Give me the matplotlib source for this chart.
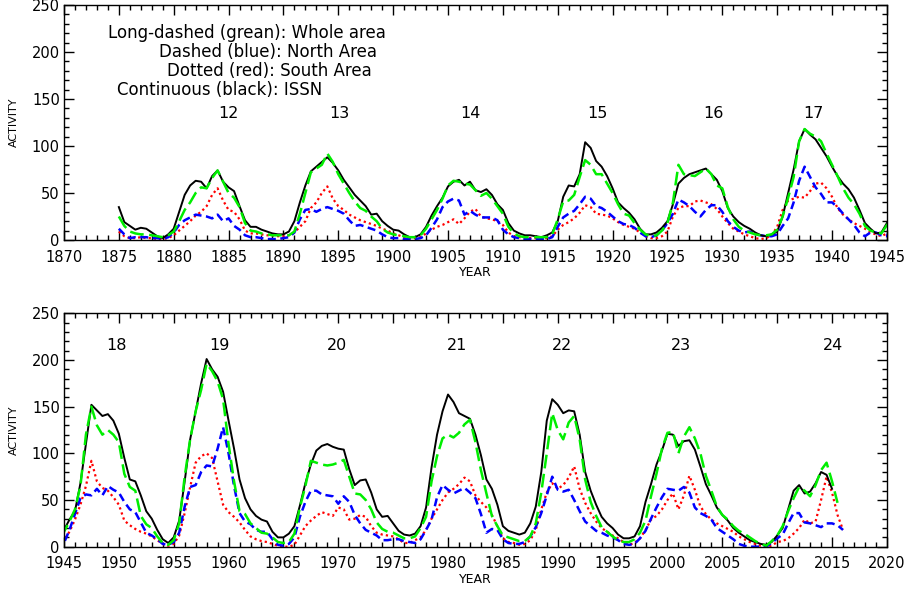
import numpy as np
import matplotlib
matplotlib.use("Agg")
import matplotlib.pyplot as plt
from matplotlib.ticker import MultipleLocator

# half-year grid, 1875.0 .. 2016.0
years = np.arange(1875.0, 2016.01, 0.5)

# Continuous (black): ISSN
issn = [
    35, 19, 15, 11, 13, 12, 8, 4, 2, 6,
    12, 30, 48, 58, 63, 62, 55, 68, 74, 62,
    56, 52, 36, 21, 14, 14, 11, 9, 7, 6,
    6, 9, 20, 40, 58, 73, 78, 83, 88, 82,
    74, 64, 56, 48, 42, 36, 27, 28, 20, 15,
    11, 10, 6, 3, 3, 6, 14, 26, 36, 45,
    57, 62, 64, 58, 62, 53, 51, 54, 48, 38,
    32, 18, 10, 7, 5, 5, 4, 3, 5, 8,
    20, 46, 58, 57, 70, 104, 98, 84, 78, 68,
    55, 40, 34, 29, 22, 12, 6, 6, 8, 13,
    20, 38, 60, 66, 70, 72, 74, 76, 70, 64,
    52, 34, 25, 19, 15, 12, 8, 5, 4, 6,
    9, 25, 50, 75, 105, 118, 112, 107, 98, 89,
    78, 68, 60, 54, 45, 32, 18, 12, 7, 8,
    18, 29, 38, 68, 110, 152, 146, 140, 142, 135,
    121, 95, 72, 70, 55, 38, 30, 18, 8, 4,
    10, 28, 70, 115, 145, 175, 201, 190, 182, 166,
    135, 105, 72, 52, 40, 33, 29, 27, 16, 10,
    10, 14, 22, 44, 68, 88, 103, 108, 110, 107,
    105, 104, 83, 66, 71, 72, 58, 40, 32, 33,
    25, 17, 13, 12, 14, 22, 42, 85, 120, 145,
    163, 155, 143, 140, 137, 120, 98, 72, 62, 45,
    22, 17, 15, 13, 15, 25, 43, 80, 135, 158,
    152, 143, 146, 145, 120, 80, 60, 45, 32, 25,
    20, 13, 9, 9, 11, 22, 48, 67, 88, 103,
    121, 120, 108, 113, 114, 104, 86, 67, 55, 42,
    34, 28, 20, 15, 11, 7, 5, 3, 2, 5,
    12, 20, 40, 60, 66, 57, 59, 68, 80, 77,
    62, np.nan, np.nan,
]

# Long-dashed (green): whole area
whole = [
    25, 15, 9, 7, 6, 6, 5, 4, 3, 5,
    9, 20, 32, 40, 50, 56, 55, 66, 74, 62,
    50, 45, 35, 18, 10, 9, 7, 6, 5, 5,
    5, 5, 9, 28, 50, 72, 76, 80, 92, 83,
    70, 60, 50, 41, 34, 31, 25, 20, 12, 8,
    6, 5, 4, 3, 3, 5, 12, 22, 32, 44,
    58, 63, 62, 60, 59, 53, 47, 50, 44, 36,
    28, 14, 7, 4, 3, 3, 3, 3, 3, 6,
    22, 41, 42, 48, 67, 85, 80, 70, 70, 60,
    50, 38, 28, 26, 18, 11, 6, 4, 5, 10,
    18, 40, 80, 70, 69, 68, 72, 76, 70, 58,
    55, 35, 22, 14, 10, 8, 6, 5, 5, 6,
    11, 25, 45, 67, 105, 118, 113, 110, 105, 92,
    80, 68, 55, 45, 38, 28, 15, 10, 8, 7,
    16, 27, 40, 65, 120, 150, 130, 120, 125, 120,
    112, 78, 64, 60, 33, 24, 20, 11, 4, 2,
    7, 25, 75, 115, 145, 168, 196, 188, 177, 158,
    110, 70, 38, 35, 25, 20, 15, 14, 10, 5,
    4, 5, 14, 42, 65, 92, 90, 88, 87, 88,
    90, 93, 75, 57, 56, 50, 40, 26, 19, 16,
    15, 12, 9, 9, 11, 20, 32, 70, 97, 116,
    120, 117, 122, 131, 136, 112, 82, 57, 33, 22,
    12, 10, 8, 6, 6, 11, 25, 58, 100, 143,
    125, 115, 133, 140, 115, 72, 48, 33, 21, 16,
    11, 7, 5, 5, 8, 15, 28, 54, 78, 105,
    122, 123, 100, 118, 128, 116, 100, 76, 60, 43,
    34, 29, 22, 17, 14, 10, 6, 3, 1, 6,
    12, 22, 38, 52, 64, 60, 54, 66, 82, 90,
    70, 47, np.nan,
]

# Dashed (blue): north area
north = [
    12, 6, 2, 3, 3, 3, 2, 2, 1, 3,
    8, 16, 21, 24, 27, 26, 25, 23, 27, 20,
    23, 15, 11, 5, 3, 3, 2, 1, 1, 1,
    2, 3, 8, 22, 32, 33, 30, 33, 35, 33,
    31, 28, 21, 15, 16, 14, 12, 10, 6, 3,
    2, 2, 1, 1, 1, 2, 5, 13, 22, 35,
    41, 44, 42, 27, 31, 27, 24, 24, 24, 21,
    11, 6, 3, 2, 1, 1, 1, 1, 1, 3,
    14, 24, 28, 31, 38, 46, 44, 36, 34, 30,
    25, 20, 17, 16, 13, 8, 4, 3, 5, 10,
    18, 28, 43, 40, 36, 30, 25, 32, 37, 37,
    30, 20, 14, 10, 8, 9, 6, 5, 4, 4,
    6, 15, 23, 40, 63, 78, 67, 56, 49, 40,
    40, 35, 28, 22, 16, 8, 4, 8, 8, 5,
    4, 18, 35, 52, 56, 55, 62, 55, 65, 61,
    58, 48, 40, 37, 26, 15, 12, 8, 3, 2,
    5, 15, 43, 64, 66, 80, 87, 86, 105, 128,
    100, 65, 36, 27, 24, 18, 16, 16, 8, 2,
    1, 3, 10, 32, 48, 60, 60, 56, 55, 54,
    46, 54, 48, 34, 25, 18, 15, 12, 7, 7,
    8, 8, 6, 5, 4, 8, 18, 29, 53, 66,
    61, 57, 60, 63, 58, 52, 35, 15, 19, 18,
    8, 4, 3, 3, 5, 11, 21, 36, 55, 75,
    61, 59, 61, 50, 38, 27, 22, 17, 15, 12,
    10, 7, 3, 2, 3, 9, 17, 30, 42, 53,
    62, 61, 60, 64, 58, 42, 36, 33, 29, 20,
    16, 12, 8, 3, 1, 0, 0, 0, 0, 4,
    9, 13, 25, 36, 36, 26, 25, 23, 21, 25,
    25, 23, 18,
]

# Dotted (red): south area
south = [
    9, 4, 2, 2, 3, 2, 2, 1, 1, 2,
    5, 10, 15, 20, 26, 30, 36, 48, 55, 42,
    32, 30, 22, 10, 7, 7, 6, 5, 5, 4,
    4, 5, 8, 14, 20, 34, 40, 50, 57, 44,
    36, 32, 27, 24, 21, 19, 17, 15, 12, 10,
    7, 5, 3, 2, 2, 3, 7, 11, 14, 16,
    19, 22, 17, 23, 30, 33, 25, 23, 22, 20,
    16, 8, 4, 3, 2, 2, 2, 2, 2, 4,
    11, 16, 19, 23, 29, 37, 35, 28, 27, 26,
    23, 19, 16, 14, 12, 8, 4, 2, 2, 4,
    9, 25, 34, 36, 36, 41, 42, 40, 38, 33,
    25, 18, 12, 9, 6, 4, 2, 1, 2, 5,
    14, 32, 42, 44, 46, 45, 52, 60, 61, 55,
    46, 34, 27, 22, 18, 15, 12, 8, 6, 4,
    7, 16, 29, 45, 65, 92, 70, 63, 60, 53,
    45, 28, 23, 19, 16, 14, 11, 7, 3, 1,
    3, 12, 36, 64, 90, 97, 100, 95, 70, 45,
    37, 32, 26, 18, 11, 8, 6, 5, 3, 1,
    0, 0, 2, 12, 22, 28, 33, 37, 35, 33,
    42, 40, 29, 30, 34, 32, 22, 15, 13, 12,
    11, 8, 4, 4, 7, 10, 18, 30, 40, 50,
    58, 62, 67, 74, 70, 55, 48, 42, 34, 22,
    9, 5, 4, 2, 3, 7, 18, 40, 58, 68,
    62, 66, 74, 86, 62, 47, 36, 27, 20, 16,
    12, 9, 5, 2, 4, 9, 18, 29, 33, 40,
    50, 57, 40, 55, 76, 61, 43, 35, 29, 25,
    22, 19, 16, 11, 8, 5, 3, 1, 0, 1,
    5, 6, 9, 14, 20, 29, 25, 27, 50, 75,
    58, 34, 18,
]

cycle_labels = ["12", "13", "14", "15", "16", "17",
                "18", "19", "20", "21", "22", "23", "24"]
cycle_years = [1885.0, 1895.1, 1907.0, 1918.6, 1929.2, 1938.3,
               1949.8, 1959.2, 1969.9, 1980.8, 1990.4, 2001.2, 2015.1]

legend_lines = ["Long-dashed (grean): Whole area",
                "Dashed (blue): North Area",
                "Dotted (red): South Area",
                "Continuous (black): ISSN"]

fig = plt.figure(figsize=(9.05, 5.92), dpi=100)
ax1 = fig.add_axes([0.0707, 0.5946, 0.9093, 0.397])
ax2 = fig.add_axes([0.0707, 0.0765, 0.9093, 0.3943])

for ax, (x0, x1) in [(ax1, (1870, 1945)), (ax2, (1945, 2020))]:
    ax.plot(years, south, color="red", lw=1.6, dashes=(1, 1.4))
    ax.plot(years, north, color="blue", lw=1.8, dashes=(3.2, 1.8))
    ax.plot(years, issn, color="black", lw=1.4)
    ax.plot(years, whole, color="#00ee00", lw=1.8, dashes=(5.5, 2.2))
    ax.set_xlim(x0, x1)
    ax.set_ylim(0, 250)
    ax.xaxis.set_major_locator(MultipleLocator(5))
    ax.xaxis.set_minor_locator(MultipleLocator(1))
    ax.yaxis.set_major_locator(MultipleLocator(50))
    ax.yaxis.set_minor_locator(MultipleLocator(10))
    ax.tick_params(which="both", direction="in", top=True, right=True, width=1.0)
    ax.tick_params(which="major", length=7)
    ax.tick_params(which="minor", length=3.5)
    ax.tick_params(axis="x", which="major", labelsize=10.5, pad=7)
    ax.tick_params(axis="y", which="major", labelsize=10.5, pad=3)
    for s in ax.spines.values():
        s.set_linewidth(1.0)
    ax.set_ylabel("ACTIVITY", fontsize=8, labelpad=9)
    ax.set_xlabel("YEAR", fontsize=9, labelpad=1)

for lab, yr in zip(cycle_labels, cycle_years):
    ax = ax1 if yr < 1945 else ax2
    yv = 135 if yr < 1945 else 216
    ax.text(yr, yv, lab, fontsize=11.5, ha="center", va="center")

legend_x = [108, 159, 167, 117]
legend_y = [33, 52, 71, 90]
for txt, px, py in zip(legend_lines, legend_x, legend_y):
    fig.text(px / 905, 1 - py / 592, txt, fontsize=12, ha="left", va="center")

fig.savefig("out.png", dpi=100)
